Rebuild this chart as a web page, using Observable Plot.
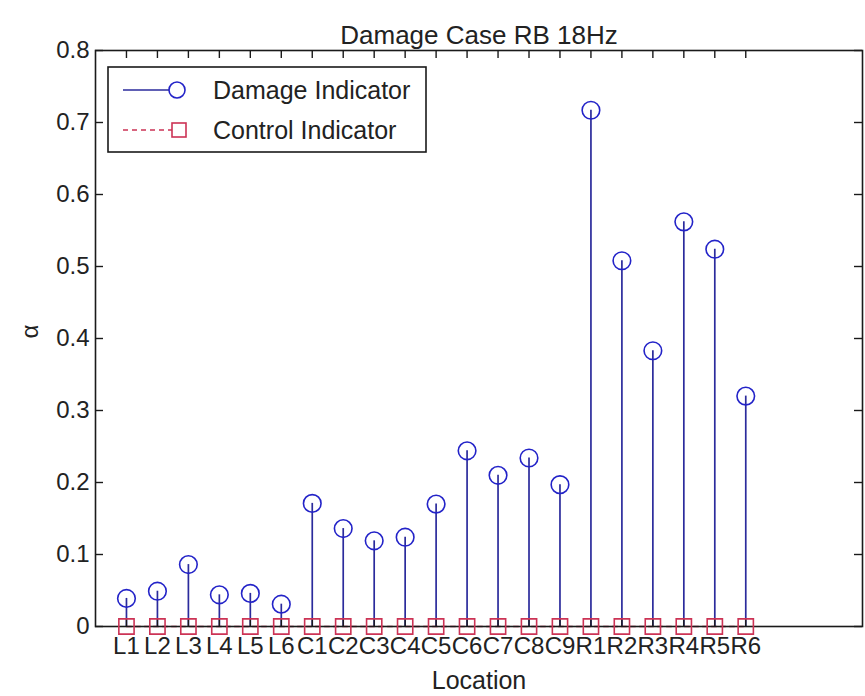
<!DOCTYPE html>
<html>
<head>
<meta charset="utf-8">
<script src="https://cdn.jsdelivr.net/npm/d3@7"></script>
<script src="https://cdn.jsdelivr.net/npm/@observablehq/plot@0.6"></script>
<style>
  html, body { margin: 0; padding: 0; background: #fff; }
  #wrap { position: relative; width: 865px; height: 696px; font-family: "Liberation Sans", Arial, sans-serif; }
</style>
</head>
<body>
<div id="wrap"></div>
<script>
// ---- data ----
const locations = ["L1","L2","L3","L4","L5","L6","C1","C2","C3","C4","C5","C6","C7","C8","C9","R1","R2","R3","R4","R5","R6"];
const damageIndicator = [0.039,0.049,0.086,0.044,0.046,0.031,0.171,0.136,0.119,0.124,0.170,0.244,0.210,0.234,0.197,0.717,0.508,0.383,0.562,0.524,0.320];
const controlIndicator = [0,0,0,0,0,0,0,0,0,0,0,0,0,0,0,0,0,0,0,0,0];
const yTicks = [0,0.1,0.2,0.3,0.4,0.5,0.6,0.7,0.8];
const yTickLabels = ["0","0.1","0.2","0.3","0.4","0.5","0.6","0.7","0.8"];
const titleText = "Damage Case RB 18Hz";
const xLabelText = "Location";
const yLabelText = "α";
const legendLabels = ["Damage Indicator", "Control Indicator"];

// ---- build table ----
const rows = locations.map((loc, i) => ({pos: i + 1, loc, damage: damageIndicator[i], control: controlIndicator[i]}));
const xPositions = rows.map(d => d.pos);

const W = 865, H = 696;
const mL = 95, mR = 3, mT = 50, mB = 70;
const innerW = W - mL - mR, innerH = H - mT - mB;
const font = "Liberation Sans, Arial, sans-serif";
const axisColor = "#1a1a1a";
const stemColor = "#2b2b9c";
const circleColor = "#2323c8";
const ctrlColor = "#cc3355";

const chart = Plot.plot({
  width: W, height: H,
  marginLeft: mL, marginRight: mR, marginTop: mT, marginBottom: mB,
  style: {fontFamily: font, background: "#fff", color: axisColor},
  x: {type: "linear", domain: [0, 24.77]},
  y: {domain: [0, 0.8]},
  marks: [
    // stems
    Plot.ruleX(rows, {x: "pos", y1: 0, y2: "damage", stroke: stemColor, strokeWidth: 1.7}),
    // control indicator dashed line
    Plot.lineY(rows, {x: "pos", y: "control", stroke: ctrlColor, strokeWidth: 1.4, strokeDasharray: "5,4"}),
    // frame box
    Plot.frame({stroke: axisColor, strokeWidth: 1.6}),
    // inward ticks: left, right
    Plot.tickY(yTicks, {y: d => d, insetRight: innerW - 8, stroke: axisColor, strokeWidth: 1.4}),
    Plot.tickY(yTicks, {y: d => d, insetLeft: innerW - 8, stroke: axisColor, strokeWidth: 1.4}),
    // inward ticks: top, bottom
    Plot.tickX(xPositions, {x: d => d, insetBottom: innerH - 8, stroke: axisColor, strokeWidth: 1.4}),
    Plot.tickX(xPositions, {x: d => d, insetTop: innerH - 8, stroke: axisColor, strokeWidth: 1.4}),
    // markers
    Plot.dot(rows, {x: "pos", y: "control", symbol: "square", r: 8.6, stroke: ctrlColor, strokeWidth: 1.6, fill: "none"}),
    Plot.dot(rows, {x: "pos", y: "damage", r: 8.8, stroke: circleColor, strokeWidth: 1.6, fill: "none"}),
    // axes labels
    Plot.axisY(yTicks, {tickSize: 0, tickPadding: 6, fontSize: 24, tickFormat: (d, i) => yTickLabels[i], label: null, fill: "#222"}),
    Plot.axisX(xPositions, {tickSize: 0, tickPadding: 10, fontSize: 24, tickFormat: d => locations[d - 1], label: null, fill: "#222"}),
    // title and axis titles
    Plot.text([titleText], {frameAnchor: "top", dy: -25, fontSize: 26, fill: "#222"}),
    Plot.text([xLabelText], {frameAnchor: "bottom", dy: 62, fontSize: 25, fill: "#222"}),
    Plot.text([yLabelText], {frameAnchor: "left", dx: -65, rotate: -90, fontSize: 24, fill: "#222"})
  ]
});
document.getElementById("wrap").appendChild(chart);

// ---- legend (overlay) ----
const ns = "http://www.w3.org/2000/svg";
const leg = document.createElementNS(ns, "svg");
leg.setAttribute("width", 320);
leg.setAttribute("height", 87);
leg.style.position = "absolute";
leg.style.left = "107px";
leg.style.top = "66px";
function el(tag, attrs, text) {
  const e = document.createElementNS(ns, tag);
  for (const k in attrs) e.setAttribute(k, attrs[k]);
  if (text) e.textContent = text;
  leg.appendChild(e);
  return e;
}
el("rect", {x: 1, y: 1, width: 318, height: 85, fill: "#fff", stroke: axisColor, "stroke-width": 1.6});
// entry 1
el("line", {x1: 16, x2: 62, y1: 24, y2: 24, stroke: stemColor, "stroke-width": 1.6});
el("circle", {cx: 70, cy: 24, r: 8, fill: "none", stroke: circleColor, "stroke-width": 1.6});
el("text", {x: 106, y: 24, dy: "0.35em", "font-size": 25, "font-family": font, fill: "#222"}, legendLabels[0]);
// entry 2
el("line", {x1: 16, x2: 65, y1: 64, y2: 64, stroke: ctrlColor, "stroke-width": 1.4, "stroke-dasharray": "5,4"});
el("rect", {x: 65, y: 57, width: 14, height: 14, fill: "none", stroke: ctrlColor, "stroke-width": 1.6});
el("text", {x: 106, y: 64, dy: "0.35em", "font-size": 25, "font-family": font, fill: "#222"}, legendLabels[1]);
document.getElementById("wrap").appendChild(leg);
</script>
</body>
</html>
